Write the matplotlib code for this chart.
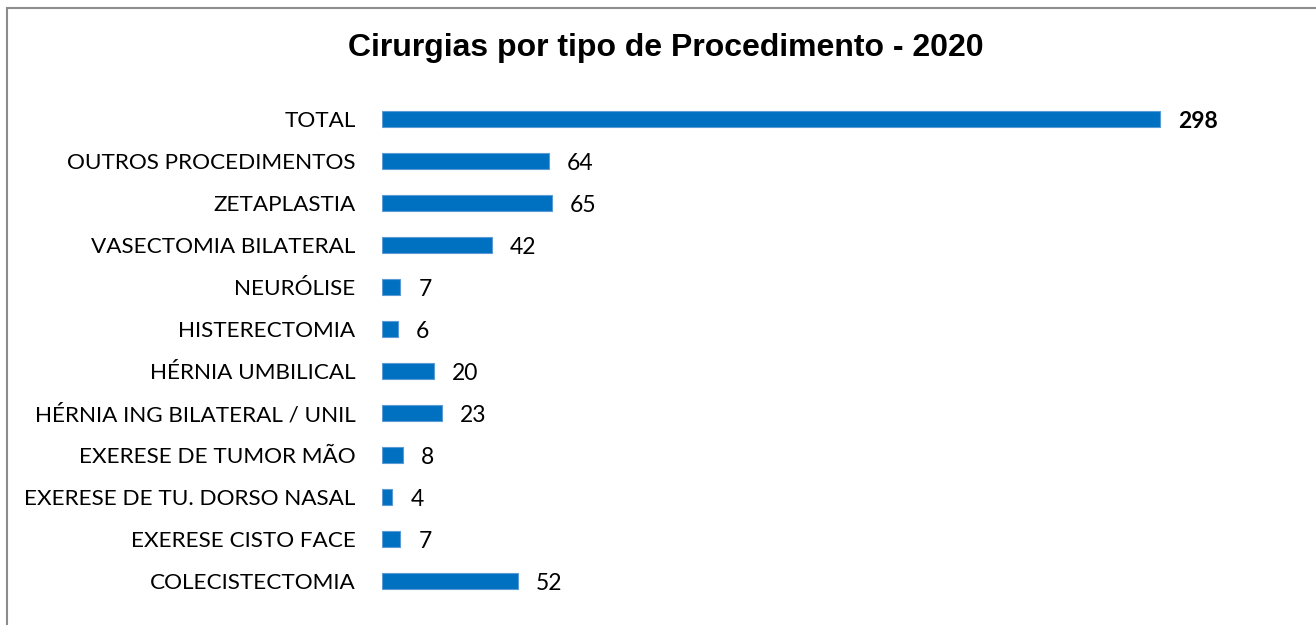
import matplotlib.pyplot as plt
from matplotlib.patches import Rectangle

# data (top to bottom as shown)
categories = ['TOTAL', 'OUTROS PROCEDIMENTOS', 'ZETAPLASTIA', 'VASECTOMIA BILATERAL',
              'NEURÓLISE', 'HISTERECTOMIA', 'HÉRNIA UMBILICAL',
              'HÉRNIA ING BILATERAL / UNIL', 'EXERESE DE TUMOR MÃO',
              'EXERESE DE TU. DORSO NASAL', 'EXERESE CISTO FACE', 'COLECISTECTOMIA']
values = [298, 64, 65, 42, 7, 6, 20, 23, 8, 4, 7, 52]
title = 'Cirurgias por tipo de Procedimento - 2020'

label_font = ['Lato', 'DejaVu Sans']
bar_color = '#0070C0'

fig = plt.figure(figsize=(13.16, 6.25), dpi=100)
ax = fig.add_axes([382 / 1316, 1 - 602 / 625, 914 / 1316, 504 / 625])

# reverse so TOTAL ends up on top
cats = categories[::-1]
vals = values[::-1]
ypos = range(len(cats))
ax.barh(ypos, vals, height=0.39, color=bar_color, edgecolor='#5B9BD5', linewidth=0.8)

for y, v, c in zip(ypos, vals, cats):
    ax.annotate(str(v), (v, y), xytext=(13, -1.5), textcoords='offset points',
                va='center', ha='left', fontsize=16.5, family=label_font,
                fontweight='bold' if c == 'TOTAL' else 'normal')

ax.set_xlim(0, 350)
ax.set_ylim(-0.5, len(cats) - 0.5)
ax.set_yticks(list(ypos))
ax.set_yticklabels(cats, fontsize=16.2, family=label_font)
ax.tick_params(axis='y', length=0, pad=19)
ax.set_xticks([])
for s in ax.spines.values():
    s.set_visible(False)

fig.text(666 / 1316, 1 - 48 / 625, title, ha='center', va='center',
         fontsize=23, fontweight='bold', family='Liberation Sans')

# chart border (Excel chart area)
fig.patches.append(Rectangle((6.5 / 1316, -0.05), 1.1, 1 - 7.5 / 625 + 0.05,
                             transform=fig.transFigure, fill=False,
                             edgecolor='#8c8c8c', linewidth=1.5, clip_on=False))

fig.savefig('out.png', dpi=100)
